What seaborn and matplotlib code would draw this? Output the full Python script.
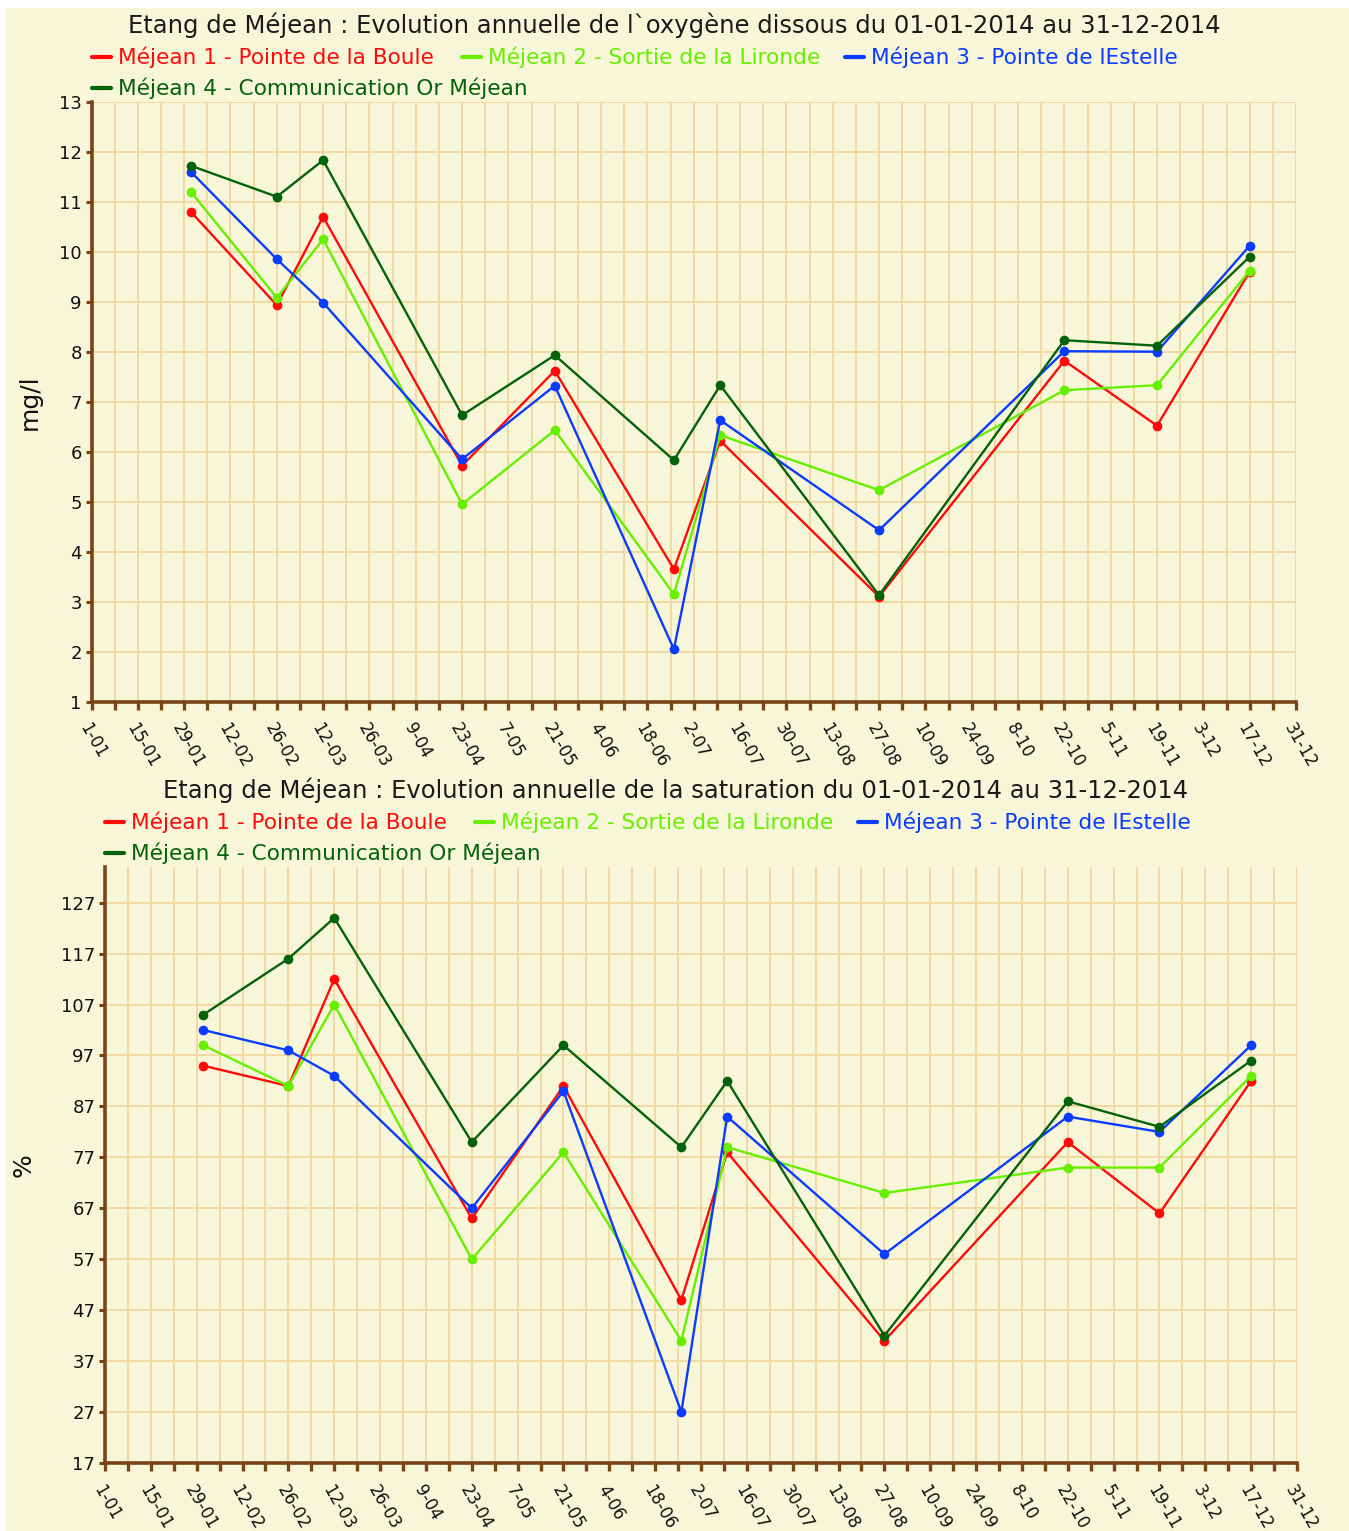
import numpy as np
import pandas as pd
import matplotlib
matplotlib.use("Agg")
import matplotlib.pyplot as plt
import matplotlib.dates as mdates
from matplotlib.lines import Line2D
from matplotlib.patches import Rectangle
import seaborn as sns

# ---------------- data ----------------
dates = ["2014-01-31", "2014-02-26", "2014-03-12", "2014-04-23", "2014-05-21",
         "2014-06-26", "2014-07-10", "2014-08-27", "2014-10-22", "2014-11-19",
         "2014-12-17"]
stations = ["Méjean 1 - Pointe de la Boule",
            "Méjean 2 - Sortie de la Lironde",
            "Méjean 3 - Pointe de lEstelle",
            "Méjean 4 - Communication Or Méjean"]

oxy_m1 = [10.8, 8.93, 10.7, 5.72, 7.62, 3.65, 6.22, 3.10, 7.82, 6.52, 9.60]
oxy_m2 = [11.2, 9.08, 10.25, 4.95, 6.43, 3.15, 6.33, 5.23, 7.23, 7.33, 9.62]
oxy_m3 = [11.6, 9.85, 8.98, 5.85, 7.32, 2.05, 6.63, 4.43, 8.01, 8.00, 10.12]
oxy_m4 = [11.72, 11.1, 11.83, 6.73, 7.93, 5.83, 7.33, 3.13, 8.23, 8.12, 9.90]

sat_m1 = [95, 91, 112, 65, 91, 49, 78, 41, 80, 66, 92]
sat_m2 = [99, 91, 107, 57, 78, 41, 79, 70, 75, 75, 93]
sat_m3 = [102, 98, 93, 67, 90, 27, 85, 58, 85, 82, 99]
sat_m4 = [105, 116, 124, 80, 99, 79, 92, 42, 88, 83, 96]

title_oxy = "Etang de Méjean : Evolution annuelle de l`oxygène dissous du 01-01-2014 au 31-12-2014"
title_sat = "Etang de Méjean : Evolution annuelle de la saturation du 01-01-2014 au 31-12-2014"

colors = ["#FF0A0A", "#66F000", "#0A3CFF", "#03620A"]

# ---------------- style ----------------
sns.set_theme(style="white")
plt.rcParams["font.family"] = ["DejaVu Sans"]

BG = "#F8F6D8"
GRID = "#F0D9A2"
AXC = "#7A4416"

fig = plt.figure(figsize=(13.49, 15.31), dpi=100, facecolor=BG)
W, H = 1349.0, 1531.0


def make_df(series):
    rows = []
    for st, vals in zip(stations, series):
        for d, v in zip(dates, vals):
            rows.append({"date": pd.Timestamp(d), "station": st, "value": v})
    return pd.DataFrame(rows)


def style_axis(ax, ylim, yticks):
    ax.set_facecolor(BG)
    start = pd.Timestamp("2014-01-01")
    end = pd.Timestamp("2014-12-31")
    ax.set_xlim(start, end)
    ax.set_ylim(*ylim)
    major = pd.date_range(start, end, freq="14D")
    minor = pd.date_range(start + pd.Timedelta(days=7), end, freq="14D")
    ax.set_xticks(major)
    ax.set_xticks(minor, minor=True)
    ax.set_xticklabels([f"{d.day}-{d.month:02d}" for d in major],
                       rotation=-60, ha="left", va="top",
                       rotation_mode="anchor", fontsize=12, color="#111111")
    ax.set_yticks(yticks)
    ax.set_yticklabels([str(t) for t in yticks], fontsize=13, color="#111111")
    ax.grid(True, which="both", axis="x", color=GRID, linewidth=1.4)
    ax.grid(True, which="major", axis="y", color=GRID, linewidth=1.4)
    ax.set_axisbelow(True)
    for s in ["top", "right"]:
        ax.spines[s].set_visible(False)
    for s in ["left", "bottom"]:
        ax.spines[s].set_color(AXC)
        ax.spines[s].set_linewidth(2.6)
    ax.tick_params(axis="x", which="both", direction="out", length=5.5,
                   width=2.4, color=AXC, pad=8, bottom=True)
    ax.tick_params(axis="y", which="major", direction="out", length=4,
                   width=2.2, color=AXC, pad=3, left=True)
    ax.set_xlabel("")


def fig_legend(xs, order):
    for (x, yy), idx in zip(xs, order):
        y = 1 - yy / H
        fig.add_artist(Line2D([x / W, (x + 19) / W], [y, y], transform=fig.transFigure,
                              color=colors[idx], linewidth=3))
        fig.text((x + 26) / W, y, stations[idx], color=colors[idx],
                 fontsize=15.6, va="center", ha="left")


# ---------------- top panel ----------------
ax1 = fig.add_axes([91.5 / W, 1 - 701.7 / H, (1296 - 91.5) / W, 600 / H])
df1 = make_df([oxy_m1, oxy_m2, oxy_m3, oxy_m4])
sns.lineplot(data=df1, x="date", y="value", hue="station", hue_order=stations,
             palette=colors, marker="o", markersize=7, markeredgewidth=0,
             linewidth=1.7, legend=False, ax=ax1)
style_axis(ax1, (1, 13), list(range(1, 14)))
ax1.set_ylabel("mg/l", fontsize=18, color="#111111", labelpad=12)
fig.text(674.5 / W, 1 - 25 / H, title_oxy, fontsize=17.5, ha="center",
         va="center", color="#1A1A1A")
fig_legend([(92, 57), (462, 57), (845, 57), (92, 88)], [0, 1, 2, 3])

# ---------------- bottom panel ----------------
ax2 = fig.add_axes([105 / W, 1 - 1463 / H, (1297 - 105) / W, (1463 - 867) / H])
df2 = make_df([sat_m1, sat_m2, sat_m3, sat_m4])
sns.lineplot(data=df2, x="date", y="value", hue="station", hue_order=stations,
             palette=colors, marker="o", markersize=7, markeredgewidth=0,
             linewidth=1.7, legend=False, ax=ax2)
style_axis(ax2, (17, 134), list(range(17, 128, 10)))
ax2.set_ylabel("%", fontsize=18, color="#111111", labelpad=18)
fig.text(675.5 / W, 1 - 790 / H, title_sat, fontsize=17.5, ha="center",
         va="center", color="#1A1A1A")
fig_legend([(105, 822), (475, 822), (858, 822), (105, 853)], [0, 1, 2, 3])

# white frame strips (top / left) as in the screenshot
fig.add_artist(Rectangle((0, 1 - 8 / H), 1, 8 / H, transform=fig.transFigure,
                         facecolor="white", edgecolor="none", zorder=-1))
fig.add_artist(Rectangle((0, 0), 5 / W, 1, transform=fig.transFigure,
                         facecolor="white", edgecolor="none", zorder=-1))

fig.savefig("out.png", dpi=100, facecolor=BG)
